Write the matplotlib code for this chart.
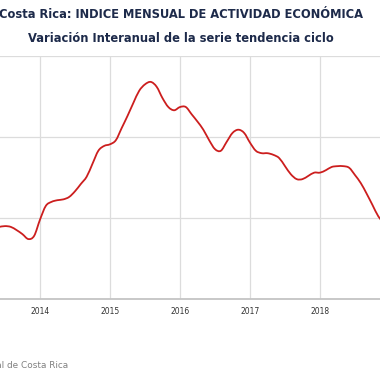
import matplotlib.pyplot as plt
import numpy as np
from matplotlib.path import Path
from matplotlib.patches import PathPatch

# months counted from Jan 2014 (0 = Jan 2014)
months = np.arange(-7, 60)
values = [2.89, 2.90, 2.89, 2.85, 2.80, 2.74, 2.78,
          2.98, 3.15, 3.20, 3.22, 3.23, 3.26, 3.33, 3.42, 3.51, 3.67, 3.83, 3.89,
          3.91, 3.96, 4.11, 4.26, 4.42, 4.57, 4.65, 4.68, 4.62, 4.48, 4.37, 4.33,
          4.37, 4.37, 4.28, 4.19, 4.09, 3.96, 3.85, 3.83, 3.94, 4.05, 4.09, 4.05,
          3.93, 3.83, 3.80, 3.80, 3.78, 3.74, 3.64, 3.54, 3.48, 3.48, 3.52, 3.56,
          3.56, 3.59, 3.63, 3.64, 3.64, 3.62, 3.53, 3.43, 3.30, 3.16, 3.02, 2.93]
years = [2014, 2015, 2016, 2017, 2018]
year_pos = [(y - 2014) * 12 for y in years]


def spline_path(x, y):
    # smooth line through the points, like a "spline" series (bezier segments)
    pts = np.column_stack([x, y]).astype(float)
    verts = [pts[0]]
    codes = [Path.MOVETO]
    n = len(pts)
    for i in range(n - 1):
        p0 = pts[max(i - 1, 0)]
        p1 = pts[i]
        p2 = pts[i + 1]
        p3 = pts[min(i + 2, n - 1)]
        c1 = p1 + (p2 - p0) / 6.0
        c2 = p2 - (p3 - p1) / 6.0
        verts += [c1, c2, p2]
        codes += [Path.CURVE4] * 3
    return Path(verts, codes)


fig = plt.figure(figsize=(3.8, 3.8), dpi=100)
ax = fig.add_axes([0, 81/380, 1, 243/380])

line = PathPatch(spline_path(months, values), fill=False, edgecolor='#cc1e1e',
                 lw=1.3, zorder=3, capstyle='round', joinstyle='round')
ax.add_patch(line)

ax.set_xlim(-40*12/70, 340*12/70)
ax.set_ylim(2, 5)
ax.set_yticks([3, 4, 5])
ax.set_yticklabels([])
ax.set_xticks(year_pos)
ax.set_xticklabels([str(y) for y in years], fontsize=5.5, color='#333333')
ax.tick_params(axis='both', length=0, pad=6)
ax.grid(True, color='#dcdcdc', lw=0.9)
for s in ['left', 'right', 'top']:
    ax.spines[s].set_visible(False)
ax.spines['bottom'].set_color('#c4c4c4')
ax.spines['bottom'].set_linewidth(1.3)

fig.text(181/380, 1 - 15/380, 'Costa Rica: INDICE MENSUAL DE ACTIVIDAD ECONÓMICA',
         ha='center', va='center', fontsize=8.3, fontweight='bold', color='#1d2a4a')
fig.text(181/380, 1 - 38/380, 'Variación Interanual de la serie tendencia ciclo',
         ha='center', va='center', fontsize=8.3, fontweight='bold', color='#1d2a4a')
fig.text(68/380, 1 - 366/380, 'Fuente: Banco Central de Costa Rica',
         ha='right', va='center', fontsize=6.4, color='#808080')

fig.savefig('out.png', dpi=100)
